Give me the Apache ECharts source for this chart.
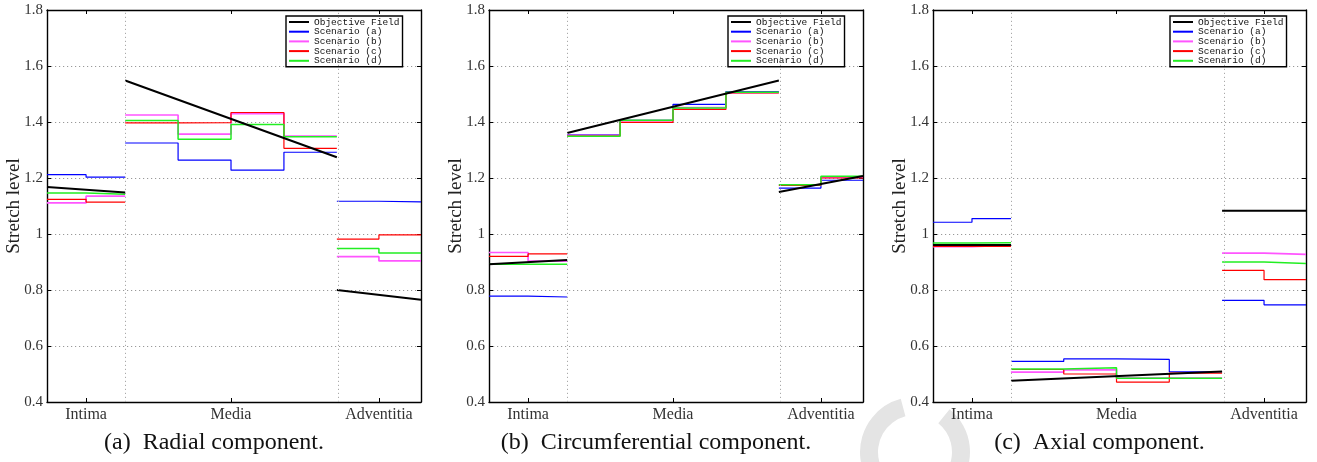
<!DOCTYPE html>
<html>
<head>
<meta charset="utf-8">
<script src="https://cdn.jsdelivr.net/npm/echarts@6/dist/echarts.min.js"></script>
<style>
  html, body { margin: 0; padding: 0; background: #fff; }
  #chart { width: 1317px; height: 462px; }
</style>
</head>
<body>
<div id="chart"></div>
<script>
// layers of the wall and their extent on the normalized thickness axis
const layers = ['Intima', 'Media', 'Adventitia'];
const layerEdges = [0, 0.209, 0.775, 1];
// finite elements: edges and the layer each one belongs to
const elementEdges = [0, 0.1045, 0.209, 0.3505, 0.492, 0.6335, 0.775, 0.8875, 1];
const elementLayer = [0, 0, 1, 1, 1, 1, 2, 2];

const seriesNames = ['Objective Field', 'Scenario (a)', 'Scenario (b)', 'Scenario (c)', 'Scenario (d)'];

// (a) radial -- objective: start/end value in each layer, scenarios: one value per element
const radialObjective = [1.168, 1.148, 1.548, 1.274, 0.800, 0.765];
const radialA = [1.212, 1.203, 1.325, 1.264, 1.228, 1.292, 1.117, 1.115];
const radialB = [1.111, 1.135, 1.425, 1.357, 1.430, 1.350, 0.919, 0.904];
const radialC = [1.124, 1.114, 1.397, 1.398, 1.434, 1.306, 0.982, 0.997];
const radialD = [1.146, 1.142, 1.405, 1.338, 1.391, 1.347, 0.948, 0.932];

// (b) circumferential
const circObjective = [0.892, 0.907, 1.361, 1.548, 1.150, 1.207];
const circA = [0.778, 0.775, 1.354, 1.406, 1.463, 1.509, 1.164, 1.192];
const circB = [0.934, 0.903, 1.352, 1.405, 1.451, 1.505, 1.175, 1.202];
const circC = [0.920, 0.929, 1.350, 1.399, 1.445, 1.504, 1.174, 1.200];
const circD = [0.892, 0.892, 1.349, 1.406, 1.450, 1.506, 1.176, 1.206];

// (c) axial
const axialObjective = [0.961, 0.961, 0.476, 0.509, 1.083, 1.083];
const axialA = [1.042, 1.055, 0.545, 0.554, 0.552, 0.508, 0.763, 0.747];
const axialB = [0.955, 0.960, 0.507, 0.515, 0.485, 0.485, 0.932, 0.927];
const axialC = [0.956, 0.956, 0.516, 0.500, 0.471, 0.503, 0.870, 0.837];
const axialD = [0.968, 0.969, 0.518, 0.522, 0.485, 0.485, 0.900, 0.895];

const captions = ['(a)  Radial component.', '(b)  Circumferential component.', '(c)  Axial component.'];

const panels = [
  { objective: radialObjective, scen: [radialA, radialB, radialC, radialD] },
  { objective: circObjective, scen: [circA, circB, circC, circD] },
  { objective: axialObjective, scen: [axialA, axialB, axialC, axialD] }
];

// layout of the three plot boxes (pixels)
const boxes = [
  { left: 47, width: 374 },
  { left: 489, width: 374 },
  { left: 933, width: 373 }
];
const boxTop = 10, boxHeight = 392;
const legendLeft = [286, 728, 1170];

const serif = 'Liberation Serif';
const colors = ['#000000', '#0000ff', '#ff55ff', '#ff0000', '#22ee22'];
const widths = [2, 1.2, 1.7, 1.2, 1.5];

const layerCenters = layers.map((_, i) => (layerEdges[i] + layerEdges[i + 1]) / 2);

function stepData(vals) {
  const pts = [];
  for (let i = 0; i < vals.length; i++) {
    if (i > 0 && elementLayer[i] !== elementLayer[i - 1]) pts.push([elementEdges[i], '-']);
    pts.push([elementEdges[i], vals[i]], [elementEdges[i + 1], vals[i]]);
  }
  return pts;
}

function objectiveData(vals) {
  const pts = [];
  for (let l = 0; l < layers.length; l++) {
    if (l > 0) pts.push([layerEdges[l], '-']);
    pts.push([layerEdges[l], vals[2 * l]], [layerEdges[l + 1], vals[2 * l + 1]]);
  }
  return pts;
}

const chart = echarts.init(document.getElementById('chart'));

const grid = [], xAxis = [], yAxis = [], series = [], legend = [], graphic = [];

panels.forEach((p, i) => {
  grid.push({ left: boxes[i].left, top: boxTop, width: boxes[i].width, height: boxHeight, show: false });

  const tick = { customValues: layerCenters, inside: true, length: 4, lineStyle: { color: '#000' } };
  const line = { show: true, onZero: false, lineStyle: { color: '#000', width: 1.4 } };

  xAxis.push({
    type: 'value', gridIndex: i, min: 0, max: 1, position: 'bottom',
    axisLine: line, axisTick: tick, splitLine: { show: false },
    axisLabel: {
      customValues: layerCenters,
      formatter: v => layers[layerCenters.findIndex(c => Math.abs(c - v) < 1e-6)],
      fontFamily: serif, fontSize: 16, color: '#333', margin: 5
    }
  });
  xAxis.push({
    type: 'value', gridIndex: i, min: 0, max: 1, position: 'top',
    axisLine: line, axisTick: tick, axisLabel: { show: false }, splitLine: { show: false }
  });

  yAxis.push({
    type: 'value', gridIndex: i, min: 0.4, max: 1.8, interval: 0.2, position: 'left',
    axisLine: line,
    axisTick: { inside: true, length: 4, lineStyle: { color: '#000' } },
    axisLabel: { fontFamily: serif, fontSize: 15, color: '#333', margin: 4 },
    splitLine: { show: true, showMinLine: false, showMaxLine: false, lineStyle: { type: [1.2, 2.8], color: '#999' } },
    name: 'Stretch level', nameLocation: 'middle', nameGap: 23, nameMoveOverlap: false,
    nameTextStyle: { fontFamily: serif, fontSize: 19, color: '#222' }
  });
  yAxis.push({
    type: 'value', gridIndex: i, min: 0.4, max: 1.8, interval: 0.2, position: 'right',
    axisLine: line,
    axisTick: { inside: true, length: 4, lineStyle: { color: '#000' } },
    axisLabel: { show: false }, splitLine: { show: false }
  });

  const datasets = [objectiveData(p.objective)].concat(p.scen.map(stepData));
  // scenarios first, objective drawn on top
  [1, 2, 3, 4, 0].forEach(k => {
    const s = {
      name: seriesNames[k], type: 'line',
      xAxisIndex: 2 * i, yAxisIndex: 2 * i,
      data: datasets[k],
      symbol: 'none', showSymbol: false, connectNulls: false,
      color: colors[k],
      lineStyle: { color: colors[k], width: widths[k] },
      animation: false
    };
    if (k === 1) {
      s.markLine = {
        silent: true, symbol: ['none', 'none'], label: { show: false },
        lineStyle: { type: [1.2, 2.8], color: '#aaa', width: 1 },
        data: layerEdges.slice(1, -1).map(x => ({ xAxis: x }))
      };
    }
    series.push(s);
  });

  legend.push({
    data: seriesNames, orient: 'vertical', left: legendLeft[i], top: 16,
    itemWidth: 20, itemHeight: 9, itemGap: -0.3,
    itemStyle: { opacity: 0 },
    backgroundColor: '#fff', borderColor: '#000', borderWidth: 1.4,
    padding: [1, 3, 1, 2], selectedMode: false,
    textStyle: { fontFamily: 'Liberation Mono', fontSize: 9.5, color: '#111', lineHeight: 9 }
  });

  graphic.push({
    type: 'text',
    x: boxes[i].left + boxes[i].width / 2 - 20, y: 443,
    style: {
      text: captions[i], font: '24px "Liberation Serif"', fill: '#111',
      textAlign: 'center', textVerticalAlign: 'middle'
    }
  });
});

// faint ring watermark printed on the page
graphic.push({
  type: 'sector', silent: true, z: -1,
  shape: { cx: 915, cy: 452, r0: 37, r: 55, startAngle: -51 * Math.PI / 180, endAngle: 255 * Math.PI / 180, clockwise: true },
  style: { fill: '#e4e4e4' }
});

chart.setOption({ animation: false, grid, xAxis, yAxis, series, legend, graphic });
</script>
</body>
</html>
